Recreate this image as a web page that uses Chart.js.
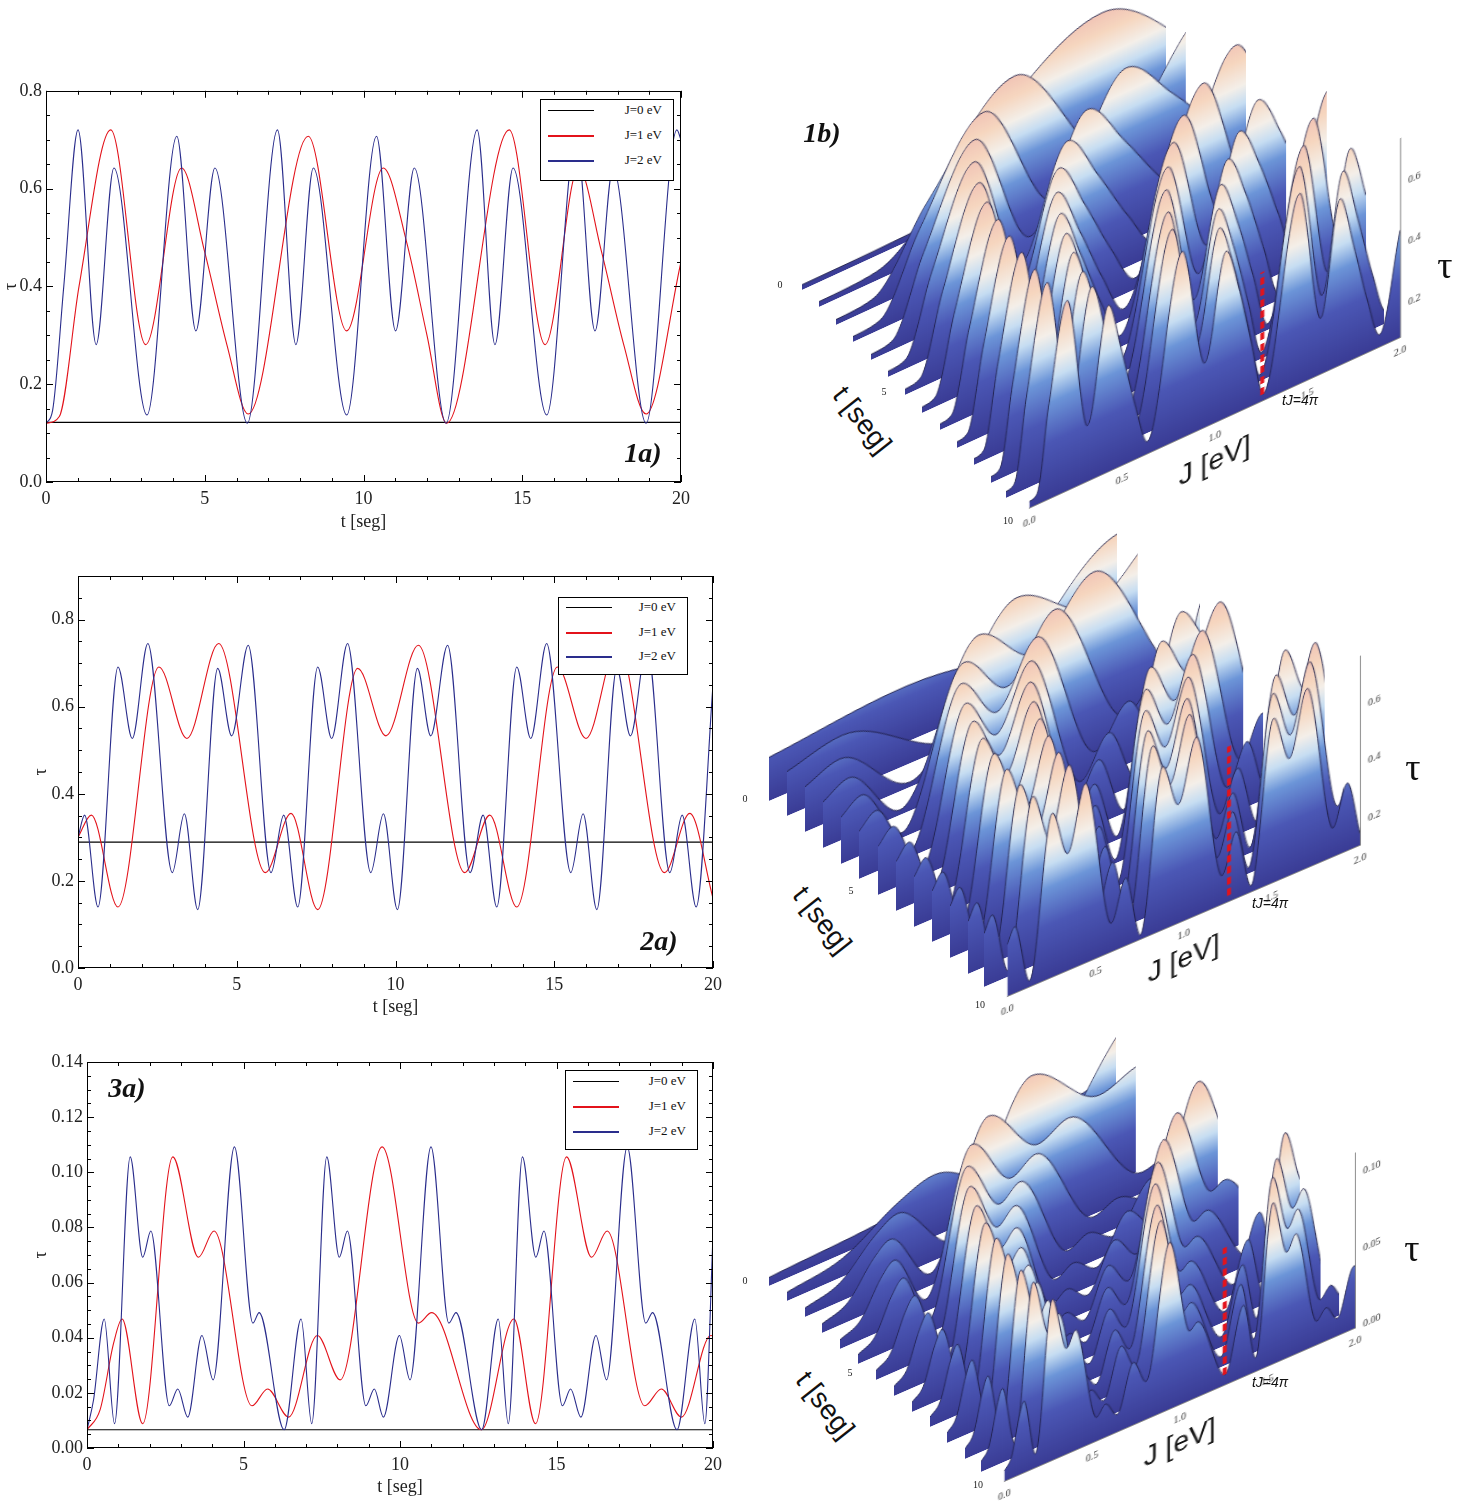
<!DOCTYPE html>
<html>
<head>
<meta charset="utf-8">
<script src="https://cdn.jsdelivr.net/npm/chart.js@4.4.0/dist/chart.umd.min.js"></script>
<style>
html, body { margin:0; padding:0; background:#fff; width:1459px; height:1506px; overflow:hidden; }
canvas { position:absolute; }
.lg { position:absolute; border:1px solid #000; background:#fff; font-family:"Liberation Serif",serif; font-size:13px; color:#111; }
.lg .row { position:absolute; left:0; right:0; height:16px; }
.lg .ln { position:absolute; left:7px; width:46px; top:8px; }
.lg .tx { position:absolute; right:11px; top:0; line-height:16px; }
.tag { position:absolute; font-family:"Liberation Serif",serif; font-weight:bold; font-style:italic; font-size:28px; color:#111; transform:translate(-50%,-50%); }
.lbl { position:absolute; transform:translate(-50%,-50%); white-space:nowrap; color:#222; }
</style>
</head>
<body>

<canvas id="c1a" width="700" height="464" style="left:0;top:76px"></canvas>
<canvas id="c2a" width="700" height="460" style="left:30px;top:560px"></canvas>
<canvas id="c3a" width="700" height="454" style="left:30px;top:1046px"></canvas>

<script>
// legend names
var seriesNames = ['J=0 eV', 'J=1 eV', 'J=2 eV'];

// ---- panel 1a ----
var black1T = [0, 20];
var black1Y = [0.122, 0.122];
var red1T = [0, 0.42, 1.04, 2.04, 3.14, 4.27, 5.0, 5.7, 6.37, 8.26, 9.47, 10.62, 11.36, 12.0, 12.62, 14.59, 15.72, 16.77, 17.5, 18.2, 18.9, 20];
var red1Y = [0.12, 0.134, 0.40, 0.72, 0.281, 0.642, 0.47, 0.28, 0.139, 0.707, 0.309, 0.642, 0.49, 0.30, 0.12, 0.72, 0.281, 0.642, 0.47, 0.28, 0.139, 0.45];
var blue1T = [0, 0.21, 0.56, 1.01, 1.58, 2.14, 3.18, 4.12, 4.72, 5.32, 6.34, 7.29, 7.87, 8.42, 9.47, 10.41, 11.01, 11.6, 12.6, 13.58, 14.14, 14.71, 15.77, 16.7, 17.29, 17.86, 18.9, 19.87, 20];
var blue1Y = [0.12, 0.147, 0.40, 0.72, 0.281, 0.642, 0.137, 0.707, 0.309, 0.642, 0.12, 0.72, 0.281, 0.642, 0.137, 0.707, 0.309, 0.642, 0.12, 0.72, 0.281, 0.642, 0.137, 0.707, 0.309, 0.642, 0.12, 0.72, 0.70];

// ---- panel 2a ----
var black2T = [0, 20];
var black2Y = [0.289, 0.289];
var red2T = [0, 0.42, 1.26, 2.55, 3.43, 4.43, 5.90, 6.71, 7.55, 8.81, 9.70, 10.72, 12.18, 12.97, 13.82, 15.10, 16.0, 17.0, 18.47, 19.27, 20];
var red2Y = [0.30, 0.351, 0.140, 0.691, 0.527, 0.745, 0.219, 0.355, 0.134, 0.688, 0.533, 0.741, 0.219, 0.351, 0.140, 0.691, 0.527, 0.745, 0.219, 0.355, 0.16];
var blue2T = [0, 0.21, 0.63, 1.26, 1.71, 2.20, 2.97, 3.35, 3.77, 4.40, 4.84, 5.36, 6.08, 6.48, 6.92, 7.55, 7.99, 8.49, 9.22, 9.62, 10.06, 10.69, 11.11, 11.64, 12.35, 12.76, 13.19, 13.82, 14.26, 14.76, 15.52, 15.91, 16.34, 16.97, 17.40, 17.92, 18.64, 19.03, 19.47, 20];
var blue2Y = [0.30, 0.351, 0.140, 0.691, 0.527, 0.745, 0.219, 0.354, 0.134, 0.688, 0.533, 0.741, 0.219, 0.351, 0.140, 0.691, 0.527, 0.745, 0.219, 0.354, 0.134, 0.688, 0.533, 0.741, 0.219, 0.351, 0.140, 0.691, 0.527, 0.745, 0.219, 0.354, 0.134, 0.688, 0.533, 0.741, 0.219, 0.351, 0.140, 0.65];

// ---- panel 3a ----
var black3T = [0, 20];
var black3Y = [0.0066, 0.0066];
var red3T = [0, 0.42, 0.85, 1.12, 1.78, 2.74, 3.56, 4.06, 5.27, 5.77, 6.44, 7.36, 8.09, 9.43, 10.59, 11.01, 12.6, 13.64, 14.33, 15.32, 16.12, 16.62, 17.82, 18.35, 18.99, 19.93, 20];
var red3Y = [0.0066, 0.0139, 0.038, 0.0468, 0.0088, 0.1056, 0.0692, 0.0787, 0.0153, 0.0214, 0.0112, 0.0408, 0.0247, 0.1092, 0.0453, 0.0491, 0.0066, 0.0468, 0.0088, 0.1056, 0.0692, 0.0787, 0.0153, 0.0214, 0.0112, 0.0408, 0.0407];
var blue3T = [0, 0.21, 0.55, 0.88, 1.38, 1.78, 2.04, 2.63, 2.90, 3.22, 3.67, 4.03, 4.71, 5.30, 5.50, 6.30, 6.84, 7.18, 7.66, 8.06, 8.32, 8.91, 9.18, 9.47, 9.98, 10.32, 10.99, 11.56, 11.79, 12.61, 13.14, 13.46, 13.91, 14.34, 14.60, 15.19, 15.45, 15.78, 16.26, 16.60, 17.26, 17.85, 18.07, 18.85, 19.42, 19.74, 20];
var blue3Y = [0.0066, 0.0175, 0.0468, 0.0088, 0.1056, 0.0692, 0.0787, 0.0153, 0.0214, 0.0112, 0.0408, 0.0247, 0.1092, 0.0453, 0.0491, 0.0066, 0.0468, 0.0088, 0.1056, 0.0692, 0.0787, 0.0153, 0.0214, 0.0112, 0.0408, 0.0247, 0.1092, 0.0453, 0.0491, 0.0066, 0.0468, 0.0088, 0.1056, 0.0692, 0.0787, 0.0153, 0.0214, 0.0112, 0.0408, 0.0247, 0.1092, 0.0453, 0.0491, 0.0066, 0.0468, 0.0088, 0.077];

// ---- 3D panels: profile of the surface along its front edge (t = 10 seg) ----
var front1J = [0, 0.042, 0.104, 0.204, 0.314, 0.427, 0.50, 0.57, 0.637, 0.826, 0.947, 1.062, 1.136, 1.20, 1.262, 1.459, 1.572, 1.677, 1.75, 1.82, 1.89, 2.0];
var front1Tau = [0.12, 0.134, 0.40, 0.72, 0.281, 0.642, 0.47, 0.28, 0.139, 0.707, 0.309, 0.642, 0.49, 0.30, 0.12, 0.72, 0.281, 0.642, 0.47, 0.28, 0.139, 0.45];
var front2J = [0, 0.042, 0.126, 0.255, 0.343, 0.443, 0.590, 0.671, 0.755, 0.881, 0.970, 1.072, 1.218, 1.297, 1.382, 1.510, 1.60, 1.70, 1.847, 1.927, 2.0];
var front2Tau = [0.30, 0.351, 0.140, 0.691, 0.527, 0.745, 0.219, 0.355, 0.134, 0.688, 0.533, 0.741, 0.219, 0.351, 0.140, 0.691, 0.527, 0.745, 0.219, 0.355, 0.16];
var front3J = [0, 0.042, 0.085, 0.112, 0.178, 0.274, 0.356, 0.406, 0.527, 0.577, 0.644, 0.736, 0.809, 0.943, 1.059, 1.101, 1.26, 1.364, 1.433, 1.532, 1.612, 1.662, 1.782, 1.835, 1.899, 1.993, 2.0];
var front3Tau = [0.0066, 0.0139, 0.038, 0.0468, 0.0088, 0.1056, 0.0692, 0.0787, 0.0153, 0.0214, 0.0112, 0.0408, 0.0247, 0.1092, 0.0453, 0.0491, 0.0066, 0.0468, 0.0088, 0.1056, 0.0692, 0.0787, 0.0153, 0.0214, 0.0112, 0.0408, 0.0407];

// depth slices drawn behind the front edge (t in seg)
var sliceT = [0.5, 1.25, 2.0, 2.75, 3.5, 4.25, 5.0, 5.75, 6.5, 7.25, 8.0, 8.75, 9.4];

// tJ = 4pi marker at the front edge
var markJ = [1.257, 1.257];
var mark1Tau = [0.12, 0.52];
var mark2Tau = [0.14, 0.66];
var mark3Tau = [0.0066, 0.09];

Chart.defaults.font.family = '"Liberation Serif", serif';
Chart.defaults.color = '#222';

var RED = '#e3131b';
var NAVY = '#2a2d8c';

function pts(xs, ys) {
  return xs.map(function(x, i){ return {x: x, y: ys[i]}; });
}
function lineDs(label, xs, ys, color, w) {
  return { label: label, data: pts(xs, ys), borderColor: color, borderWidth: w,
           pointRadius: 0, fill: false, cubicInterpolationMode: 'monotone' };
}
function onStep(v, m) { var r = v / m; return Math.abs(r - Math.round(r)) < 1e-6; }

// mathematica style frame with inner ticks
var frameTicks = {
  id: 'frameTicks',
  afterDatasetsDraw: function(chart, args, o) {
    if (!o || !o.on) return;
    var ctx = chart.ctx, a = chart.chartArea, x = chart.scales.x, y = chart.scales.y;
    ctx.save();
    ctx.strokeStyle = '#000';
    ctx.lineWidth = 1;
    ctx.strokeRect(Math.round(a.left) + 0.5, Math.round(a.top) + 0.5, Math.round(a.width) - 1, Math.round(a.height) - 1);
    var n = Math.round((x.max - x.min) / o.xMinor);
    for (var i = 0; i <= n; i++) {
      var v = x.min + i * o.xMinor;
      var px = Math.round(x.getPixelForValue(v)) + 0.5;
      var len = onStep(v, o.xMajor) ? 7 : 4;
      ctx.beginPath();
      ctx.moveTo(px, a.bottom); ctx.lineTo(px, a.bottom - len);
      ctx.moveTo(px, a.top); ctx.lineTo(px, a.top + len);
      ctx.stroke();
    }
    n = Math.round((y.max - y.min) / o.yMinor);
    for (var j = 0; j <= n; j++) {
      var w = y.min + j * o.yMinor;
      var py = Math.round(y.getPixelForValue(w)) + 0.5;
      var l2 = onStep(w, o.yMajor) ? 7 : 4;
      ctx.beginPath();
      ctx.moveTo(a.left, py); ctx.lineTo(a.left + l2, py);
      ctx.moveTo(a.right, py); ctx.lineTo(a.right - l2, py);
      ctx.stroke();
    }
    ctx.restore();
  }
};

function timeChart(id, sets, yMax, yStep, yDec, yMinor, lay) {
  var datasets = [
    lineDs(seriesNames[2], sets[2][0], sets[2][1], NAVY, 1.1),
    lineDs(seriesNames[1], sets[1][0], sets[1][1], RED, 1.1),
    lineDs(seriesNames[0], sets[0][0], sets[0][1], '#000', 1.1)
  ];
  return new Chart(document.getElementById(id), {
    type: 'line',
    data: { datasets: datasets },
    options: {
      responsive: false, animation: false,
      layout: { autoPadding: false, padding: { top: lay.top, right: lay.right, left: 0, bottom: 0 } },
      plugins: { legend: { display: false }, tooltip: { enabled: false },
                 frameTicks: { on: true, xMinor: 1, xMajor: 5, yMinor: yMinor, yMajor: yStep } },
      scales: {
        x: {
          type: 'linear', min: 0, max: 20,
          grid: { display: false, drawTicks: false }, border: { display: false },
          ticks: { stepSize: 5, autoSkip: false, maxRotation: 0, padding: 6, font: { size: 18 }, color: '#222' },
          title: { display: true, text: 't [seg]', font: { size: 18 }, color: '#222', padding: { top: 0, bottom: lay.tpad } },
          afterFit: function(s) { s.height = lay.xh; }
        },
        y: {
          type: 'linear', min: 0, max: yMax,
          grid: { display: false, drawTicks: false }, border: { display: false },
          ticks: { stepSize: yStep, autoSkip: false, padding: 4, font: { size: 18 }, color: '#222',
                   callback: function(v) { return onStep(v, yStep) ? v.toFixed(yDec) : ''; } },
          title: { display: true, text: 'τ', font: { size: 18 }, color: '#222', padding: 0 },
          afterFit: function(s) { s.width = lay.yw; }
        }
      }
    },
    plugins: [frameTicks]
  });
}

timeChart('c1a', [[black1T, black1Y], [red1T, red1Y], [blue1T, blue1Y]], 0.8, 0.2, 1, 0.05,
  { top: 14, right: 19, yw: 46, xh: 58, tpad: 7 });
timeChart('c2a', [[black2T, black2Y], [red2T, red2Y], [blue2T, blue2Y]], 0.9, 0.2, 1, 0.05,
  { top: 16, right: 17, yw: 48, xh: 52, tpad: 2 });
timeChart('c3a', [[black3T, black3Y], [red3T, red3Y], [blue3T, blue3Y]], 0.14, 0.02, 2, 0.005,
  { top: 16, right: 17, yw: 57, xh: 52, tpad: 2 });

// ---- oblique surface panels: a waterfall of slices on skewed canvases ----
function surfGradient(c) {
  var a = c.chart.chartArea;
  if (!a) return 'rgba(70,80,170,0.9)';
  var g = c.chart.ctx.createLinearGradient(0, a.bottom, 0, a.top);
  g.addColorStop(0.0, '#3a3c95');
  g.addColorStop(0.28, '#4b57b5');
  g.addColorStop(0.48, '#6c95d8');
  g.addColorStop(0.60, '#c6ddf2');
  g.addColorStop(0.70, '#f4efe9');
  g.addColorStop(0.84, '#f6d6bf');
  g.addColorStop(1.0, '#efbdb2');
  return g;
}

var panels3d = [
  { J: front1J, tau: front1Tau, mark: mark1Tau, yMin: 0.1, yMax: 0.75, yStep: 0.2, yDec: 1,
    B: [790, 278], F: [1020, 512], W: 380, H: 208, ang: 24.7 },
  { J: front2J, tau: front2Tau, mark: mark2Tau, yMin: 0.12, yMax: 0.78, yStep: 0.2, yDec: 1,
    B: [757, 790], F: [998, 1000], W: 362, H: 198, ang: 23.2 },
  { J: front3J, tau: front3Tau, mark: mark3Tau, yMin: 0, yMax: 0.115, yStep: 0.05, yDec: 2,
    B: [757, 1275], F: [995, 1485], W: 360, H: 184, ang: 23.6 }
];

function addCanvas(left, top, w, h, ang) {
  var c = document.createElement('canvas');
  c.width = Math.round(w); c.height = Math.round(h);
  c.style.left = left + 'px';
  c.style.top = top + 'px';
  c.style.transformOrigin = '0 0';
  c.style.transform = 'skewY(-' + ang + 'deg)';
  document.body.appendChild(c);
  return c;
}

function surfaceDs(p) {
  return { data: pts(p.J, p.tau), borderColor: '#1d1d45', borderWidth: 0.9, pointRadius: 0,
           fill: 'start', backgroundColor: surfGradient, cubicInterpolationMode: 'monotone', order: 1 };
}

panels3d.forEach(function(p) {
  // slices behind the front edge; the visible J window of the front profile shrinks with t,
  // and the slice gets a little smaller towards the back
  sliceT.forEach(function(t) {
    var f = t / 10;
    var left = p.B[0] + f * (p.F[0] - p.B[0]);
    var bottom = p.B[1] + f * (p.F[1] - p.B[1]);
    var w = p.W * (0.9 + 0.1 * f), h = p.H * (0.8 + 0.2 * f);
    var cv = addCanvas(left, bottom - Math.round(h), w, h, p.ang);
    new Chart(cv, {
      type: 'line',
      data: { datasets: [surfaceDs(p)] },
      options: {
        responsive: false, animation: false,
        layout: { autoPadding: false, padding: 0 },
        plugins: { legend: { display: false }, tooltip: { enabled: false } },
        scales: {
          x: { type: 'linear', display: false, min: 0, max: 2 * f },
          y: { type: 'linear', display: false, min: p.yMin, max: p.yMax }
        }
      }
    });
  });
  // front edge with the axes
  var fc = addCanvas(p.F[0], p.F[1] - p.H, p.W + 40, p.H + 60, p.ang);
  new Chart(fc, {
    type: 'line',
    data: { datasets: [
      { data: pts(markJ, p.mark), borderColor: RED, borderWidth: 4, borderDash: [7, 4], pointRadius: 0, fill: false, order: 0 },
      surfaceDs(p)
    ] },
    options: {
      responsive: false, animation: false,
      layout: { autoPadding: false, padding: 0 },
      plugins: { legend: { display: false }, tooltip: { enabled: false } },
      scales: {
        x: {
          type: 'linear', min: 0, max: 2,
          grid: { display: false, drawTicks: true, tickLength: 5, color: '#555' }, border: { display: true, color: '#888' },
          ticks: { stepSize: 0.5, autoSkip: false, maxRotation: 0, padding: 3, font: { size: 10 }, color: '#333',
                   callback: function(v) { return v.toFixed(1); } },
          title: { display: true, text: 'J [eV]', font: { family: '"Liberation Sans", sans-serif', size: 28 }, color: '#111', padding: { top: 2, bottom: 4 } },
          afterFit: function(s) { s.height = 60; }
        },
        y: {
          type: 'linear', position: 'right', min: p.yMin, max: p.yMax,
          grid: { display: false, drawTicks: true, tickLength: 5, color: '#555' }, border: { display: true, color: '#888' },
          ticks: { stepSize: p.yStep, autoSkip: false, padding: 3, font: { size: 10 }, color: '#333',
                   callback: function(v) { return onStep(v, p.yStep) ? v.toFixed(p.yDec) : ''; } },
          afterFit: function(s) { s.width = 40; }
        }
      }
    }
  });
});

// legends
function legend(left, top, w, h, rowTops) {
  var box = document.createElement('div');
  box.className = 'lg';
  box.style.cssText = 'left:' + left + 'px;top:' + top + 'px;width:' + w + 'px;height:' + h + 'px';
  var cols = ['#000', RED, NAVY], widths = [1, 2, 2];
  for (var i = 0; i < 3; i++) {
    var r = document.createElement('div');
    r.className = 'row';
    r.style.top = rowTops[i] + 'px';
    r.innerHTML = '<div class="ln" style="border-top:' + widths[i] + 'px solid ' + cols[i] + '"></div><div class="tx">' + seriesNames[i] + '</div>';
    box.appendChild(r);
  }
  document.body.appendChild(box);
}
legend(540, 99, 132, 80, [2, 27, 52]);
legend(558, 597, 128, 76, [1, 26, 50]);
legend(565, 1070, 131, 78, [2, 27, 52]);

// text labels
function label(cls, text, x, y, css) {
  var d = document.createElement('div');
  d.className = cls;
  d.textContent = text;
  d.style.left = x + 'px';
  d.style.top = y + 'px';
  if (css) d.style.cssText += css;
  document.body.appendChild(d);
}
label('tag', '1a)', 643, 453);
label('tag', '2a)', 659, 941);
label('tag', '3a)', 127, 1088);
label('tag', '1b)', 822, 133);

var sans = 'font-family:"Liberation Sans",sans-serif;';
var serif = 'font-family:"Liberation Serif",serif;';
var tPanels = [
  { tau: [1445, 265], tl: [862, 420], t0: [780, 284], t5: [884, 391], t10: [1008, 520], tj: [1300, 400] },
  { tau: [1413, 767], tl: [822, 920], t0: [745, 798], t5: [851, 890], t10: [980, 1004], tj: [1270, 903] },
  { tau: [1412, 1248], tl: [825, 1405], t0: [745, 1280], t5: [850, 1372], t10: [978, 1484], tj: [1270, 1382] }
];
tPanels.forEach(function(p) {
  label('lbl', 'τ', p.tau[0], p.tau[1], serif + 'font-size:38px;color:#111;');
  label('lbl', 't [seg]', p.tl[0], p.tl[1], sans + 'font-size:28px;color:#111;transform:translate(-50%,-50%) rotate(52deg);');
  label('lbl', '0', p.t0[0], p.t0[1], serif + 'font-size:10px;');
  label('lbl', '5', p.t5[0], p.t5[1], serif + 'font-size:10px;');
  label('lbl', '10', p.t10[0], p.t10[1], serif + 'font-size:10px;');
  label('lbl', 'tJ=4π', p.tj[0], p.tj[1], sans + 'font-size:14px;font-style:italic;color:#111;');
});
</script>
</body>
</html>
